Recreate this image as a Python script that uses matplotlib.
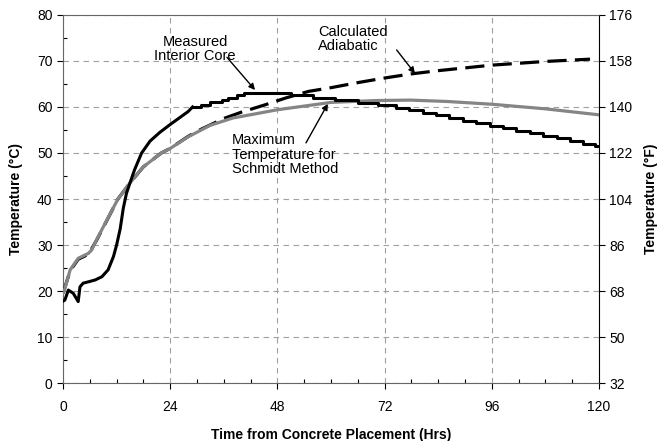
import matplotlib
matplotlib.use("Agg")
import matplotlib.pyplot as plt
from matplotlib.ticker import MultipleLocator

plt.rcParams['font.family'] = ['Liberation Sans', 'DejaVu Sans']

# Measured interior core, smooth early part (hours, degC)
measured_t = [0, 0.4, 1.2, 2.3, 3.4, 3.8, 4.5, 5.7, 7.2, 8.7, 10.1, 11.3, 12.0,
              12.8, 13.5, 14.2, 15, 16, 17.6, 19.5, 21.7, 24, 26, 28, 29]
measured_c = [17.8, 18.0, 20.2, 19.5, 17.7, 20.9, 21.7, 22.0, 22.4, 23.1, 24.6,
              27.5, 30.0, 33.5, 38.0, 41.2, 43.5, 46.3, 50.0, 52.6, 54.5, 56.2,
              57.6, 59.0, 60.0]

# Measured interior core, stepped later part (step start hours, level degC)
steps_t = [29, 31, 33, 35.5, 37, 39, 40.5, 51, 56, 61, 66, 70.5, 74.5, 77.5, 80.5,
           83.5, 86.5, 89.5, 92.5, 95.5, 98.5, 101.5, 104.5, 107.5, 110.5, 113.5,
           116.5, 119.2, 120]
steps_c = [60.0, 60.5, 61.0, 61.5, 62.0, 62.5, 63.1, 62.6, 62.0, 61.5, 60.9, 60.4,
           59.8, 59.3, 58.7, 58.2, 57.6, 57.0, 56.5, 55.9, 55.4, 54.8, 54.3, 53.7,
           53.2, 52.6, 52.0, 51.5, 51.5]

# Calculated adiabatic
adiab_t = [0, 1.6, 3.4, 5.7, 7.5, 9.8, 12.3, 15, 18, 22, 24, 28, 31, 36, 40, 45,
           50, 55, 60, 66, 72, 78, 84, 90, 96, 102, 108, 114, 118]
adiab_c = [19.5, 24.4, 26.9, 28.0, 31.0, 35.3, 40.0, 43.5, 47.0, 50.0, 51.0, 53.6,
           55.2, 57.5, 58.9, 60.4, 62.0, 63.4, 64.2, 65.3, 66.3, 67.2, 67.9, 68.5,
           69.1, 69.5, 69.9, 70.2, 70.4]

# Maximum temperature for Schmidt method
schmidt_t = [0, 0.2, 1.6, 3.4, 5.7, 6.4, 7.5, 9.8, 12.3, 15, 18, 22, 24, 28, 32.9,
             38, 48, 60, 70, 77.7, 86, 96, 108, 120]
schmidt_c = [19.5, 19.8, 24.6, 27.1, 28.2, 28.9, 31.1, 35.4, 40.0, 43.5, 47.0, 50.0,
             51.0, 53.5, 56.0, 57.6, 59.4, 61.0, 61.4, 61.5, 61.2, 60.6, 59.6, 58.3]

x_ticks = [0, 24, 48, 72, 96, 120]
f_ticks = [32, 50, 68, 86, 104, 122, 140, 158, 176]

fig = plt.figure(figsize=(6.57, 4.41), dpi=100)
ax = fig.add_axes([0.0959, 0.1315, 0.8158, 0.8345])

ax.plot(adiab_t, adiab_c, color='black', lw=2.3, dashes=(6, 2.6), zorder=3)
ax.plot(schmidt_t, schmidt_c, color='#858585', lw=2.3, zorder=4)
ax.plot(measured_t, measured_c, color='black', lw=2.2, zorder=5)
ax.plot(steps_t, steps_c, color='black', lw=2.2, drawstyle='steps-post', zorder=5)

ax.set_xlim(0, 120)
ax.set_ylim(0, 80)
ax.set_xticks(x_ticks)
ax.xaxis.set_minor_locator(MultipleLocator(6))
ax.yaxis.set_major_locator(MultipleLocator(10))
ax.yaxis.set_minor_locator(MultipleLocator(5))
ax.tick_params(which='major', direction='out', length=4, width=0.8, labelsize=10)
ax.tick_params(axis='x', which='major', pad=8)
ax.tick_params(which='minor', direction='in', length=3, width=0.8)
ax.grid(True, which='major', color='#a0a0a0', linestyle=(0, (5, 4)), lw=0.8)
ax.set_axisbelow(True)

for s in ['top', 'left', 'bottom']:
    ax.spines[s].set_color('#666666')
ax.spines['right'].set_color('black')

ax.set_xlabel('Time from Concrete Placement (Hrs)', fontsize=10, fontweight='bold',
              labelpad=10)
ax.set_ylabel('Temperature (°C)', fontsize=10, fontweight='bold', labelpad=10)

ax2 = ax.twinx()
ax2.set_ylim(32, 176)
ax2.set_yticks(f_ticks)
ax2.tick_params(direction='out', length=4, width=0.8, labelsize=10)
ax2.set_ylabel('Temperature (°F)', fontsize=10, fontweight='bold', labelpad=8)
for s in ax2.spines.values():
    s.set_visible(False)

arrow = dict(arrowstyle='-|>', color='black', lw=1, shrinkA=0, shrinkB=0,
             mutation_scale=9)

ax.text(29.6, 72.6, 'Measured\nInterior Core', ha='center', va='center',
        fontsize=10.5, multialignment='center', linespacing=1.05)
ax.annotate('', xy=(43, 63.7), xytext=(36.7, 70.8), arrowprops=arrow)

ax.text(57.1, 74.8, 'Calculated\nAdiabatic', ha='left', va='center',
        fontsize=10.5, linespacing=1.05)
ax.annotate('', xy=(78.8, 67.3), xytext=(74.7, 72.4), arrowprops=arrow)

ax.text(37.8, 49.6, 'Maximum\nTemperature for\nSchmidt Method', ha='left',
        va='center', fontsize=10.5, linespacing=1.05)
ax.annotate('', xy=(59.3, 60.7), xytext=(54.4, 52.2), arrowprops=arrow)

fig.savefig('out.png', dpi=100)
